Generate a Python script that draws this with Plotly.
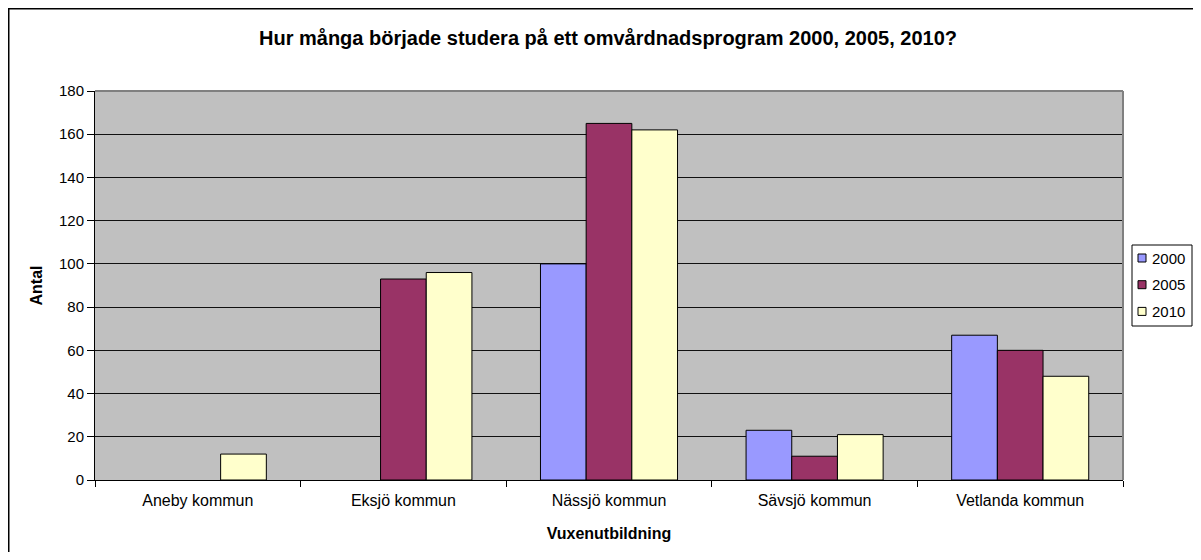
import plotly.graph_objects as go

kommuner = ["Aneby kommun", "Eksjö kommun", "Nässjö kommun", "Sävsjö kommun", "Vetlanda kommun"]
ar_2000 = [None, None, 100, 23, 67]
ar_2005 = [None, 93, 165, 11, 60]
ar_2010 = [12, 96, 162, 21, 48]
y_ticks = [0, 20, 40, 60, 80, 100, 120, 140, 160, 180]

serier = [
    ("2000", ar_2000, "#9999FF"),
    ("2005", ar_2005, "#993366"),
    ("2010", ar_2010, "#FFFFCC"),
]

# sidan har 8px marginal runt figuren, så allt ritas 8px in
W, H = 1185, 544
L, R, T, B = 87, 70, 83, 72
pw, ph = W - L - R, H - T - B


def px(x):  # fönsterpixel -> paper x
    return (x - 8 - L) / pw


def py(y):  # fönsterpixel -> paper y
    return (H - B - (y - 8)) / ph


fig = go.Figure()
for namn, varden, farg in serier:
    fig.add_trace(go.Bar(
        x=kommuner, y=varden, name=namn, showlegend=False,
        marker=dict(color=farg, line=dict(color="black", width=1)),
    ))

font = "Liberation Sans, Arial, sans-serif"

fig.update_layout(
    width=W, height=H,
    margin=dict(l=L, r=R, t=T, b=B, autoexpand=False),
    paper_bgcolor="white",
    plot_bgcolor="#C0C0C0",
    font=dict(family=font, size=15, color="black"),
    barmode="group",
    bargap=1 / 3,
    bargroupgap=0,
    title=dict(
        text="<b>Hur många började studera på ett omvårdnadsprogram 2000, 2005, 2010?</b>",
        x=600 / W, xanchor="center", y=1 - 30 / H, yanchor="middle",
        font=dict(size=20, family=font),
    ),
)

fig.update_xaxes(
    automargin=False,
    showline=True, linecolor="black", linewidth=1,
    ticks="outside", tickson="boundaries", ticklen=6, tickcolor="black",
    tickfont=dict(size=16), ticklabelstandoff=6,
    showgrid=False,
    title=dict(text="<b>Vuxenutbildning</b>", font=dict(size=16), standoff=19),
)
fig.update_yaxes(
    automargin=False,
    range=[0, 180], tickvals=y_ticks,
    showline=True, linecolor="black", linewidth=1,
    ticks="outside", ticklen=7, tickcolor="black",
    showgrid=True, gridcolor="#111111", gridwidth=1,
    zeroline=False,
    title=dict(text="<b>Antal</b>", font=dict(size=16), standoff=12),
)

# grå ram runt plotytan (topp och höger)
fig.add_shape(type="line", xref="paper", yref="paper", x0=0, x1=1, y0=1, y1=1,
              line=dict(color="#808080", width=2))
fig.add_shape(type="line", xref="paper", yref="paper", x0=1, x1=1, y0=0, y1=1,
              line=dict(color="#808080", width=2))
# yttre diagramram
fig.add_shape(type="rect", xref="paper", yref="paper",
              x0=px(8.75), x1=1.5, y0=-0.5, y1=py(8.75),
              line=dict(color="black", width=1.5), layer="below")

# teckenförklaring
lx = 1132
fig.add_shape(type="rect", xref="paper", yref="paper",
              x0=px(lx), x1=px(lx + 60), y0=py(326), y1=py(245),
              line=dict(color="black", width=1), fillcolor="white")
for i, (namn, varden, farg) in enumerate(serier):
    yc = 258 + i * 26.7
    fig.add_shape(type="rect", xref="paper", yref="paper",
                  x0=px(lx + 6), x1=px(lx + 14), y0=py(yc + 4), y1=py(yc - 4),
                  line=dict(color="black", width=1), fillcolor=farg)
    fig.add_annotation(xref="paper", yref="paper", x=px(lx + 18), y=py(yc),
                       xanchor="left", yanchor="middle", text=namn,
                       showarrow=False, font=dict(size=15))

fig.write_html("out.html")
